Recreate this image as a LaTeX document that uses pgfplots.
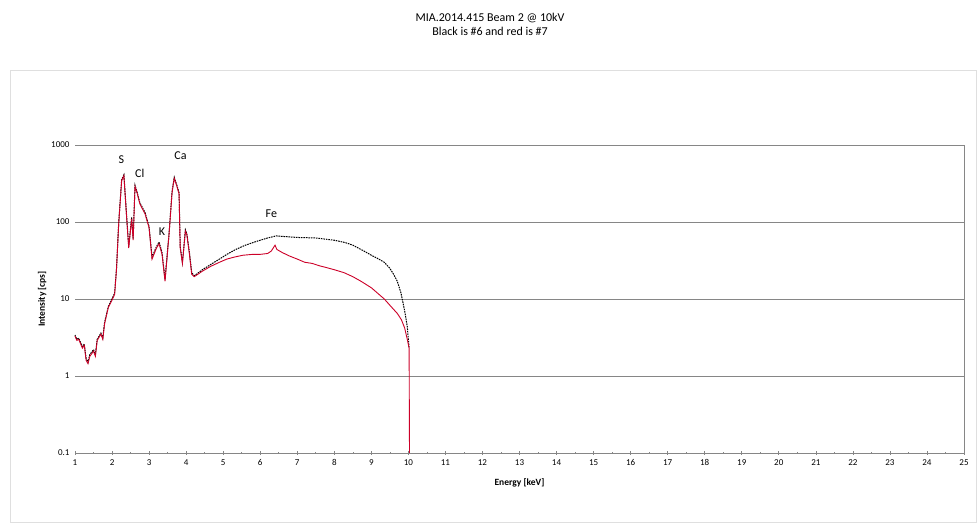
\documentclass[border=0pt]{standalone}
\usepackage{pgfplots}
\pgfplotsset{compat=1.18}
\usepackage{fontspec}
\setmainfont{Carlito}
\definecolor{spred}{RGB}{204,0,40}
\definecolor{gridgray}{RGB}{134,134,134}
\begin{document}
\begin{tikzpicture}[x=1pt,y=1pt]
\useasboundingbox (0,0) rectangle (980,529);
\draw[gray!25, line width=0.8pt] (10,7) rectangle (976,459);
\node[font=\fontsize{12}{14}\selectfont, align=center] at (490,505) {MIA.2014.415 Beam 2 @ 10kV\\Black is \#6 and red is \#7};
\begin{axis}[
  at={(75pt,76pt)}, anchor=south west,
  scale only axis, width=889pt, height=308pt,
  xmin=1, xmax=25, ymin=0.1, ymax=1000,
  ymode=log, log basis y=10,
  xtick={1,...,25},
  minor x tick num=1,
  ytick={0.1,1,10,100,1000},
  yticklabels={0.1,1,10,100,1000},
  axis x line=bottom, axis y line=left,
  y axis line style={draw=none},
  x axis line style={-, gridgray, line width=0.8pt},
  ymajorgrids, major grid style={gridgray, line width=0.8pt},
  tick style={gridgray, line width=0.6pt},
  major tick length=4pt, minor tick length=2pt,
  xtick pos=bottom, ytick pos=left,
  ytick style={draw=none},
  tick label style={font=\fontsize{9}{10}\selectfont, /pgf/number format/assume math mode=true},
  xticklabel style={yshift=-1pt},
  xlabel={\textbf{Energy [keV]}}, ylabel={\textbf{Intensity [cps]}},
  label style={font=\fontsize{9.5}{11}\selectfont},
  xlabel style={yshift=-6pt},
  ylabel style={yshift=-2pt},
  clip=false,
]
\addplot[black, line width=1pt, dash pattern=on 1.6pt off 0.9pt] coordinates {
(1.0,3.4)(1.05,3.0)(1.1,3.1)(1.2,2.4)(1.25,2.6)(1.3,1.7)(1.35,1.5)(1.4,1.9)(1.5,2.2)(1.55,1.9)(1.6,3.0)(1.7,3.6)(1.75,3.1)(1.8,5.0)(1.9,8)(2.0,10)(2.07,12)(2.12,25)(2.18,98)(2.26,355)(2.32,410)(2.38,150)(2.45,48)(2.53,115)(2.57,60)(2.62,300)(2.68,240)(2.75,178)(2.89,133)(3.0,87)(3.08,35)(3.2,48)(3.27,55)(3.35,40)(3.43,18)(3.54,72)(3.62,250)(3.68,380)(3.75,300)(3.81,240)(3.84,48)(3.9,30)(3.98,79)(4.02,70)(4.09,40)(4.15,22)(4.22,20)(4.44,24)(4.66,28)(4.9,33)(5.1,38)(5.34,44)(5.6,50)(5.9,56)(6.2,62)(6.43,66)(6.6,65)(7.0,63)(7.5,62)(8.0,58)(8.3,54)(8.5,50)(8.8,42)(9.0,37)(9.2,33)(9.35,30)(9.5,25)(9.6,21)(9.7,17)(9.8,12)(9.9,7)(9.97,4.4)(10.02,2.3)
};
\addplot[spred, line width=0.9pt] coordinates {
(1.0,3.3)(1.05,2.9)(1.1,3.0)(1.2,2.3)(1.25,2.5)(1.3,1.6)(1.35,1.45)(1.4,1.8)(1.5,2.1)(1.55,1.8)(1.6,2.9)(1.7,3.5)(1.75,3.0)(1.8,4.8)(1.9,7.8)(2.0,9.7)(2.07,11.5)(2.12,24)(2.18,95)(2.26,345)(2.32,400)(2.38,145)(2.45,46)(2.53,110)(2.57,58)(2.62,290)(2.68,235)(2.75,172)(2.89,128)(3.0,84)(3.08,33)(3.2,46)(3.27,52)(3.35,38)(3.43,17)(3.54,70)(3.62,240)(3.68,370)(3.75,290)(3.81,230)(3.84,46)(3.9,29)(3.98,76)(4.02,68)(4.09,38)(4.15,21)(4.22,19.5)(4.44,23)(4.66,26.5)(4.9,30)(5.1,33)(5.3,35)(5.53,37)(5.8,38)(6.0,38)(6.2,39)(6.3,42)(6.4,50)(6.45,44)(6.6,40)(6.8,36)(7.0,33)(7.2,30)(7.4,29)(7.6,27)(7.8,25.5)(8.0,24)(8.26,22)(8.5,19.5)(8.72,17)(9.0,14)(9.16,12)(9.35,10)(9.54,7.9)(9.7,6.5)(9.81,5.4)(9.9,4.2)(9.97,3.0)(10.02,2.3)(10.03,0.1)
};
\draw[gridgray, line width=0.8pt] (rel axis cs:1,0) -- (rel axis cs:1,1);
\node[font=\fontsize{12}{14}\selectfont] at (axis cs:2.25,650) {S};
\node[font=\fontsize{12}{14}\selectfont] at (axis cs:2.75,430) {Cl};
\node[font=\fontsize{12}{14}\selectfont] at (axis cs:3.35,75) {K};
\node[font=\fontsize{12}{14}\selectfont] at (axis cs:3.85,720) {Ca};
\node[font=\fontsize{12}{14}\selectfont] at (axis cs:6.3,130) {Fe};
\end{axis}
\end{tikzpicture}
\end{document}
